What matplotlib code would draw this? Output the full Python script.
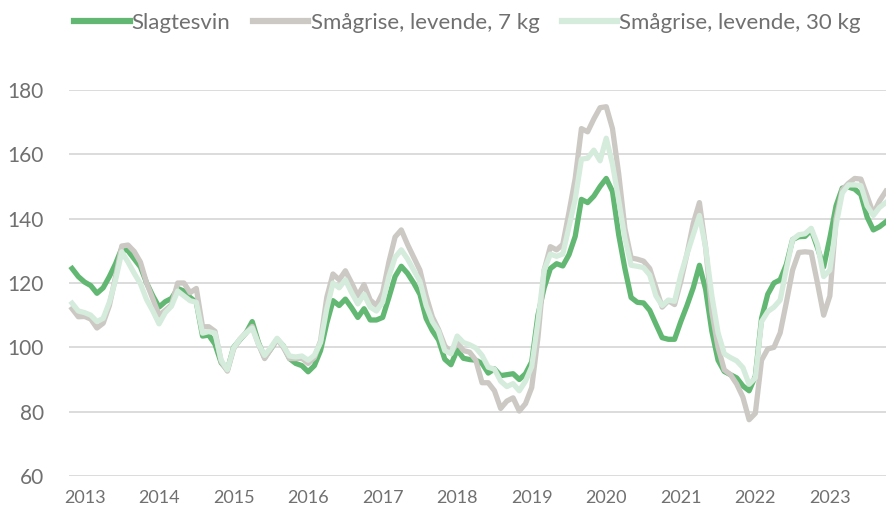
import matplotlib.pyplot as plt
import numpy as np
import pandas as pd

# monthly index, Nov 2012 - Oct 2023 (2012=100)
months = pd.date_range('2012-11-01', periods=132, freq='MS')

slagtesvin = [
    124.5, 122, 120.3, 119.2, 116.8, 118.5, 122, 126, 130.8, 130, 127.5, 125,
    120, 116, 112.5, 114.2, 115.2, 118.3, 117.5, 115.5, 114, 103.5, 103.8, 101,
    95.2, 93, 100, 102.3, 104.5, 108, 101.5, 96.8, 99.5, 102.5, 100.5, 96.5,
    95, 94.3, 92.4, 94.3, 99, 107.5, 114.5, 113, 115, 112.3, 109.3, 112,
    108.5, 108.5, 109.3, 115.5, 122, 125.2, 123, 120, 116.5, 109, 105.2, 102.3,
    96.3, 94.6, 99.2, 96.6, 96.2, 96, 95, 92, 93.3, 91.2, 91.5, 91.8,
    90, 91.8, 95.5, 110, 118.5, 124.5, 126, 125.3, 128.8, 134.5, 146, 145,
    147, 150, 152.5, 148.5, 135, 124.5, 115.5, 114, 113.8, 111.5, 107.2, 103,
    102.5, 102.5, 108, 113, 118.5, 125.5, 118, 105, 96, 92.5, 91.5, 90.5,
    88, 86.5, 91, 109, 116.5, 120, 121, 125.8, 133.5, 134.4, 134.5, 136.5,
    131, 125, 134, 144, 149.5, 149.8, 149.2, 147.5, 140.5, 136.5, 137.5, 139,
]

smaagrise_7kg = [
    112, 109.5, 109.6, 108.8, 106, 107.5, 113, 122, 131.5, 131.8, 129.8, 126.5,
    120, 115, 110, 111.5, 113.2, 120, 120, 117, 118.3, 106.4, 106.4, 105,
    95.5, 92.6, 99.5, 102.5, 104.5, 106.5, 101, 96.5, 99.5, 102.5, 100, 96.5,
    96.5, 96.6, 95, 96.8, 102, 115.5, 122.8, 121, 123.8, 120, 116, 119.5,
    114.7, 113, 117, 126.5, 134.3, 136.5, 132, 128, 124, 116, 109.5, 105.5,
    100.5, 98.3, 101.5, 99, 98.5, 96, 89, 89, 86.5, 81, 83.3, 84.3,
    80.2, 82.5, 87.5, 103, 124, 131.3, 130.3, 132, 142, 152.5, 168, 167,
    171, 174.5, 174.8, 168, 154, 137, 127.8, 127.4, 126.8, 124.5, 118.5, 112.5,
    114.5, 113.3, 120.5, 129, 138.5, 145, 131, 111, 100, 93, 91.5, 88.6,
    84.5, 77.5, 79.5, 96, 99.5, 100, 104.5, 114, 124, 129.5, 129.7, 129.5,
    120, 110, 116, 140, 149, 151, 152.5, 152.3, 147, 141.5, 145.5, 148.5,
]

smaagrise_30kg = [
    113.7, 111.3, 110.8, 110, 108, 109, 114, 121, 129.7, 126.5, 123, 119.8,
    114.8, 111.3, 107.3, 110.8, 112.8, 117.5, 116, 114.5, 114, 104.4, 104.9, 104.4,
    96, 93, 99.8, 102.5, 104.5, 106, 101, 97.5, 100, 102.8, 100.5, 97.3,
    97, 97.3, 96, 97.5, 101.5, 112, 120, 118.5, 121, 117, 113.5, 116.5,
    112.5, 111.3, 114, 122, 128, 130.3, 127.5, 124, 120.5, 113, 108, 105,
    99, 98, 103.5, 101.5, 100.8, 99.8, 97.5, 93.8, 93.2, 89.5, 87.8, 88.7,
    86.5, 89.5, 94, 108, 124, 129, 128.3, 129, 137.5, 146, 158.5, 158.8,
    161.3, 158, 165, 157, 145.8, 134, 125.5, 125.2, 124.8, 122.5, 116, 113,
    114.7, 114.3, 122.5, 129, 135, 141, 131, 116, 104.5, 98, 96.8, 95.8,
    93.7, 88.5, 90.5, 108, 111.1, 112.5, 114.7, 124.5, 133.5, 135, 135.3, 137,
    132, 122, 124, 138, 148, 150.5, 150.5, 150.3, 144, 141, 143.5, 145,
]

series_names = ['Slagtesvin', 'Smågrise, levende, 7 kg', 'Smågrise, levende, 30 kg']
series_colors = ['#62b872', '#ccc9c4', '#d5ebdb']
y_ticks = [60, 80, 100, 120, 140, 160, 180]

plt.rcParams['font.family'] = ['Lato', 'DejaVu Sans']
text_color = '#707070'

fig = plt.figure(figsize=(8.87, 5.13), dpi=100)
ax = fig.add_axes([69 / 887, 37 / 513, 818 / 887, 386 / 513])

x = np.arange(len(months))
for vals, name, col in zip([slagtesvin, smaagrise_7kg, smaagrise_30kg], series_names, series_colors):
    ax.plot(x, vals, color=col, lw=3.8, label=name, solid_joinstyle='round', clip_on=False)

ax.set_xlim(-0.5, 131.2)
ax.set_ylim(60, 180)
ax.set_yticks(y_ticks)
jan = x[months.month == 1]
ax.set_xticks(jan)
ax.set_xticklabels([str(d.year) for d in months[months.month == 1]])

ax.grid(axis='y', color='#dcdcdc', lw=1.4)
ax.set_axisbelow(True)
for s in ax.spines.values():
    s.set_visible(False)
ax.tick_params(axis='both', length=0, colors=text_color)
ax.tick_params(axis='y', labelsize=15, pad=18)
ax.tick_params(axis='x', labelsize=13, pad=10)

fig.legend(loc='center left', bbox_to_anchor=(74 / 887, 1 - 23 / 513), ncol=3,
           frameon=False, fontsize=16, handlelength=2.5, handletextpad=0.1,
           columnspacing=1.0, borderpad=0, borderaxespad=0, labelcolor=text_color)
for line in fig.legends[0].get_lines():
    line.set_linewidth(4.5)

fig.savefig('out.png', dpi=100)
